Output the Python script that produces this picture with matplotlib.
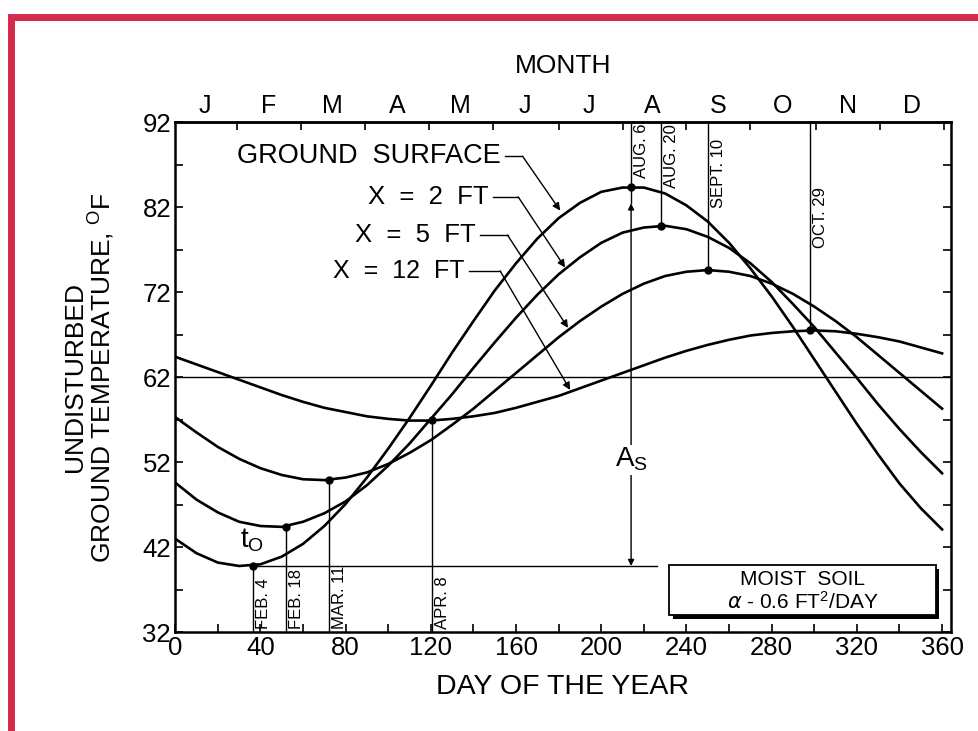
import numpy as np
import matplotlib
matplotlib.use("Agg")
import matplotlib.pyplot as plt
from matplotlib.patches import Rectangle

plt.rcParams['font.family'] = ['Liberation Sans', 'DejaVu Sans']

# day of the year where the curves were read
days = list(range(0, 361, 10))

# temperatures (deg F)
ground_surface = [43.0, 41.3, 40.2, 39.8, 40.0, 40.9, 42.4, 44.5, 47.1, 50.2, 53.6, 57.2, 61.0,
                  64.9, 68.6, 72.2, 75.4, 78.3, 80.7, 82.5, 83.8, 84.3, 84.3, 83.6, 82.2,
                  80.3, 77.8, 74.8, 71.5, 67.9, 64.1, 60.3, 56.5, 52.9, 49.5, 46.6, 44.1]
x_2ft = [49.6, 47.6, 46.1, 45.0, 44.5, 44.4, 45.0, 46.0, 47.4, 49.3, 51.6, 54.2, 57.1,
         60.0, 63.1, 66.1, 69.0, 71.7, 74.1, 76.1, 77.8, 79.0, 79.6, 79.8, 79.4,
         78.5, 77.2, 75.4, 73.2, 70.6, 67.9, 64.9, 61.9, 58.8, 55.9, 53.2, 50.7]
x_5ft = [57.3, 55.5, 53.8, 52.4, 51.3, 50.5, 50.0, 49.9, 50.2, 50.8, 51.8, 53.1, 54.6,
         56.4, 58.3, 60.4, 62.5, 64.6, 66.7, 68.6, 70.3, 71.8, 73.0, 73.9, 74.4,
         74.6, 74.4, 73.9, 73.0, 71.8, 70.3, 68.6, 66.7, 64.6, 62.5, 60.4, 58.3]
x_12ft = [64.4, 63.5, 62.6, 61.7, 60.8, 59.9, 59.1, 58.4, 57.9, 57.4, 57.1, 56.9, 56.9,
          57.1, 57.4, 57.8, 58.4, 59.1, 59.8, 60.7, 61.6, 62.5, 63.4, 64.3, 65.1,
          65.8, 66.4, 66.9, 67.2, 67.4, 67.5, 67.4, 67.1, 66.7, 66.2, 65.5, 64.8]

# min / max points with their dates
min_days = [36.6, 52, 72, 120.6]
min_temps = [39.8, 44.4, 49.9, 57.0]
min_labels = ['FEB. 4', 'FEB. 18', 'MAR. 11', 'APR. 8']
max_days = [214, 228, 250, 298]
max_temps = [84.4, 79.8, 74.6, 67.5]
max_labels = ['AUG. 6', 'AUG. 20', 'SEPT. 10', 'OCT. 29']

mean_temp = 62
month_letters = ['J', 'F', 'M', 'A', 'M', 'J', 'J', 'A', 'S', 'O', 'N', 'D']
month_mid = [14, 44, 74, 104, 134, 164, 194, 224, 255, 285, 316, 346]
month_bounds = [29, 59, 89, 119, 149, 180, 210, 240, 270, 301, 331, 361]

curve_names = ['GROUND  SURFACE', 'X  =  2  FT', 'X  =  5  FT', 'X  =  12  FT']
name_sizes = [19.5, 18.5, 18.5, 18]
name_pos = [(153, 88.0), (147, 83.2), (141, 78.7), (136, 74.5)]
corner_pos = [(163, 88.0), (161, 83.2), (156, 78.7), (152.5, 74.5)]
tip_pos = [(180.7, 81.6), (183, 74.9), (184.4, 67.8), (185.4, 60.5)]

narrow = ['Liberation Sans Narrow', 'Liberation Sans']

fig = plt.figure(figsize=(9.79, 7.31), dpi=100)
ax = fig.add_axes([0.179, 0.135, 0.792, 0.698])

for series in [ground_surface, x_2ft, x_5ft, x_12ft]:
    ax.plot(days, series, color='black', lw=1.9, solid_joinstyle='round')

# reference lines
ax.axhline(mean_temp, color='black', lw=1.0)
ax.plot([min_days[0], 226], [min_temps[0], min_temps[0]], color='black', lw=1.0)
for d, t in zip(min_days, min_temps):
    ax.plot([d, d], [32, t], color='black', lw=1.0)
for d, t in zip(max_days, max_temps):
    ax.plot([d, d], [92, t], color='black', lw=1.0)
ax.annotate('', xy=(max_days[0], min_temps[0]), xytext=(max_days[0], max_temps[0]),
            arrowprops=dict(arrowstyle='<|-|>', color='black', lw=1.0,
                            shrinkA=12, shrinkB=0, mutation_scale=9))
ax.plot([max_days[0], max_days[0]], [max_temps[0], 82.5], color='black', lw=1.0)

ax.plot(min_days + max_days, min_temps + max_temps, 'o', color='black', ms=5)

# rotated date labels
for d, lab in zip(min_days, min_labels):
    ax.text(d + 1.5, 32.4, lab, rotation=90, ha='left', va='bottom', fontsize=12,
            family=narrow)
label_tops = [92, 92, 90.2, 84.6]
for d, lab, top in zip(max_days, max_labels, label_tops):
    ax.text(d + 1.5, top - 0.2, lab, rotation=90, ha='left', va='top', fontsize=12,
            family=narrow)

# curve names with leaders
for name, size, p, c, tip in zip(curve_names, name_sizes, name_pos, corner_pos, tip_pos):
    ax.text(p[0], p[1], name, ha='right', va='center', fontsize=size)
    ax.plot([p[0] + 2, c[0]], [p[1], c[1]], color='black', lw=1.0)
    ax.annotate('', xy=tip, xytext=c,
                arrowprops=dict(arrowstyle='-|>', color='black', lw=1.0,
                                shrinkA=0, shrinkB=0, mutation_scale=11))

ax.text(36, 42.8, r'$\mathregular{t_O}$', ha='center', va='center', fontsize=20)
ax.text(max_days[0], 52.3, r'$\mathregular{A_S}$', ha='center', va='center', fontsize=20,
        bbox=dict(facecolor='white', edgecolor='none', pad=1))

# moist soil box with shadow
ax.add_patch(Rectangle((233.5, 33.6), 125, 5.9, facecolor='black', edgecolor='none', zorder=3))
ax.add_patch(Rectangle((232, 34.0), 125, 5.9, facecolor='white', edgecolor='black', lw=1.3, zorder=4))
ax.text(294.5, 38.2, 'MOIST  SOIL', ha='center', va='center', fontsize=15, zorder=5)
ax.text(294.5, 35.6, r'$\alpha$ - 0.6 FT$\mathregular{^2}$/DAY', ha='center', va='center',
        fontsize=15, zorder=5)

ax.set_xlim(0, 364)
ax.set_ylim(32, 92)
ax.set_xticks(np.arange(0, 361, 40))
ax.set_xticks(np.arange(20, 361, 40), minor=True)
ax.set_yticks(np.arange(32, 93, 10))
ax.set_yticks(np.arange(37, 92, 10), minor=True)
ax.tick_params(which='both', direction='in', right=True, top=False, labelsize=18.5, pad=3)
ax.tick_params(which='both', length=6, width=1.2)
for s in ax.spines.values():
    s.set_linewidth(1.8)

sec = ax.secondary_xaxis('top')
sec.set_xticks(month_mid, month_letters)
sec.set_xticks(month_bounds, minor=True)
sec.tick_params(which='major', length=0, pad=3, labelsize=18)
sec.tick_params(which='minor', direction='in', length=6, width=1.2)
sec.spines['top'].set_linewidth(1.8)
sec.set_xlabel('MONTH', fontsize=19, labelpad=15)

ax.set_xlabel('DAY OF THE YEAR', fontsize=20.5, labelpad=10)
ax.set_ylabel('UNDISTURBED\nGROUND TEMPERATURE, $\\mathregular{^{O}F}$', fontsize=19,
              linespacing=1.0)
ax.yaxis.set_label_coords(-0.075, 0.5)

# red frame around the picture
fig.patches.append(Rectangle((11 / 979, -0.2), 1.2, (731 - 17) / 731 + 0.2,
                             transform=fig.transFigure, fill=False,
                             edgecolor='#d42a4c', lw=5))

fig.savefig('out.png', dpi=100)
